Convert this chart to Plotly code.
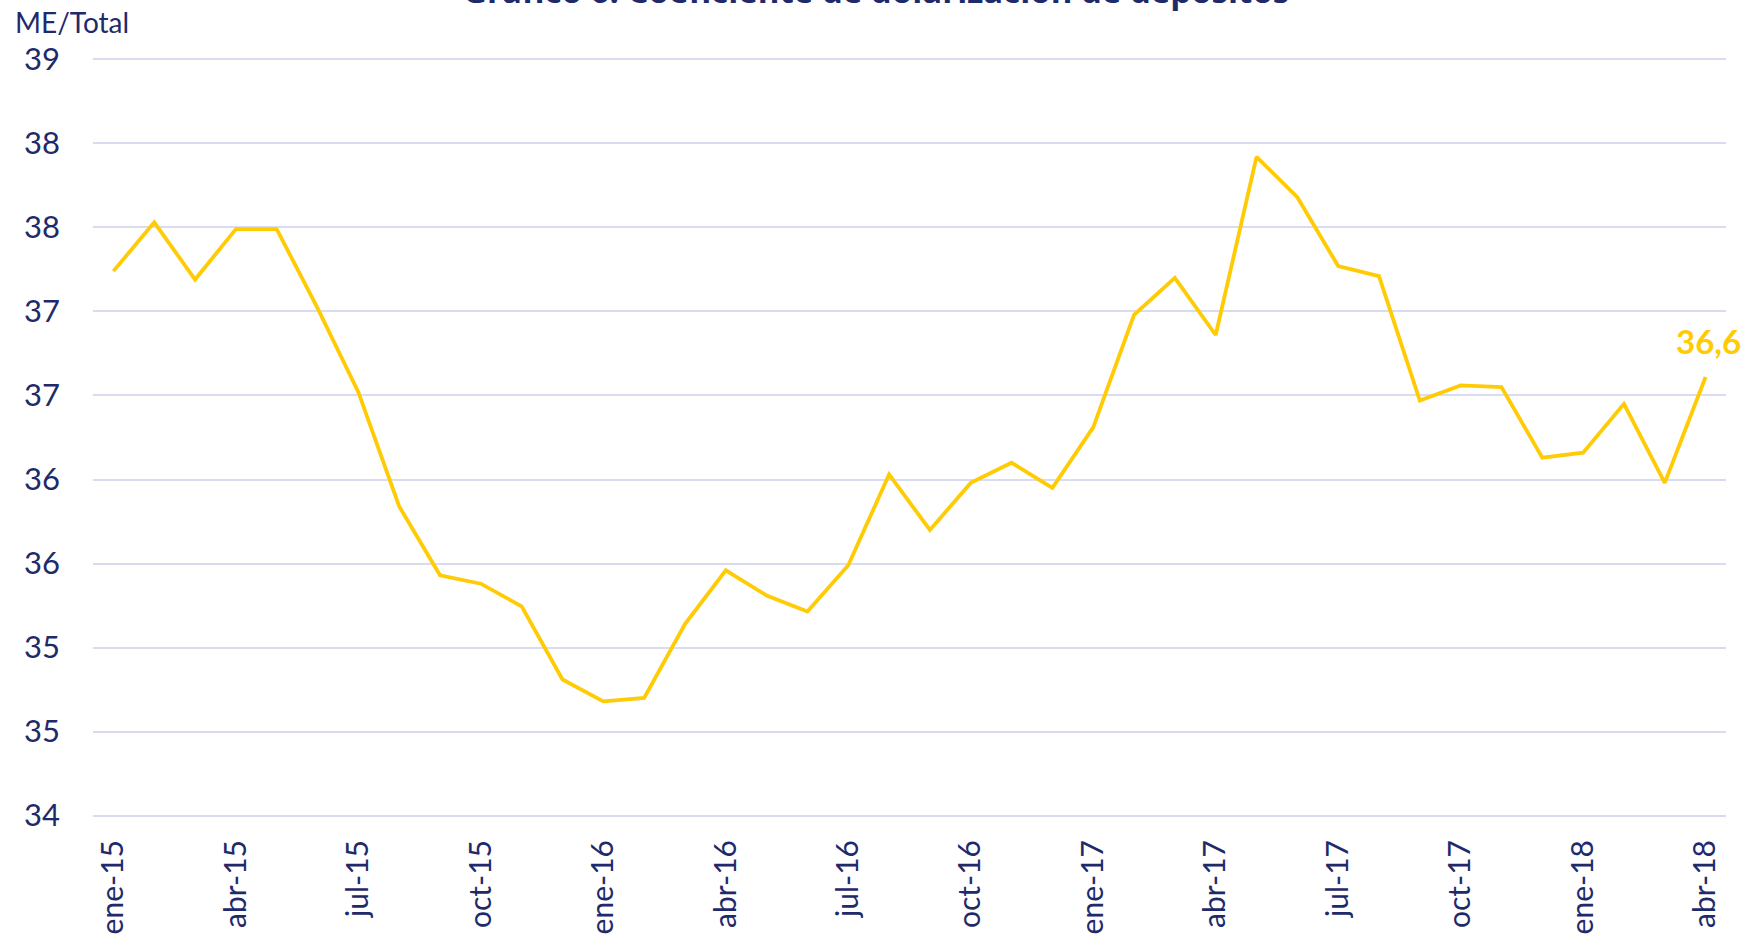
import plotly.graph_objects as go

months = ["ene-15","feb-15","mar-15","abr-15","may-15","jun-15","jul-15","ago-15","sep-15","oct-15","nov-15","dic-15",
          "ene-16","feb-16","mar-16","abr-16","may-16","jun-16","jul-16","ago-16","sep-16","oct-16","nov-16","dic-16",
          "ene-17","feb-17","mar-17","abr-17","may-17","jun-17","jul-17","ago-17","sep-17","oct-17","nov-17","dic-17",
          "ene-18","feb-18","mar-18","abr-18"]
values = [37.24, 37.53, 37.19, 37.49, 37.49, 37.02, 36.52, 35.84, 35.43, 35.38, 35.245, 34.81,
          34.68, 34.70, 35.14, 35.46, 35.31, 35.215, 35.49, 36.03, 35.70, 35.98, 36.10, 35.95,
          36.31, 36.98, 37.20, 36.86, 37.92, 37.68, 37.27, 37.21, 36.47, 36.56, 36.55, 36.13,
          36.16, 36.45, 35.98, 36.61]
y_tickvals = [34, 34.5, 35, 35.5, 36, 36.5, 37, 37.5, 38, 38.5]
y_ticktext = ["34", "35", "35", "36", "36", "37", "37", "38", "38", "39"]
x_tick_labels = months[::3]
last_label = "36,6"
title_text = "Gráfico 6: Coeficiente de dolarización de depósitos"
y_title = "ME/Total"

navy = "#1f2a6b"
gold = "#ffcb05"
font = "Lato"

x_idx = list(range(len(months)))

fig = go.Figure()
fig.add_trace(go.Scatter(x=x_idx, y=values, mode="lines",
                         line=dict(color=gold, width=3.8), hoverinfo="skip", showlegend=False))

fig.add_annotation(x=x_idx[-1], y=values[-1], xref="x", yref="y", text="<b>" + last_label + "</b>",
                   showarrow=False, xanchor="center", yanchor="bottom", yshift=14, xshift=3,
                   font=dict(family=font, size=33, color=gold))

fig.add_annotation(x=0.4795, y=1.0537, xref="paper", yref="paper", text="<b>" + title_text + "</b>",
                   showarrow=False, xanchor="center", yanchor="bottom",
                   font=dict(family="Open Sans", size=33, color=navy))

fig.add_annotation(x=-0.049, y=1.045, xref="paper", yref="paper", text=y_title,
                   showarrow=False, xanchor="left", yanchor="middle",
                   font=dict(family=font, size=28, color=navy))

fig.update_layout(
    width=1743, height=938,
    margin=dict(l=93, r=17, t=56, b=119),
    paper_bgcolor="white", plot_bgcolor="white",
    font=dict(family=font, color=navy),
    xaxis=dict(range=[-0.5, 39.5], tickmode="array", tickvals=x_idx[::3], ticktext=x_tick_labels,
               tickangle=-90, showgrid=False, zeroline=False, showline=False, ticks="",
               automargin=False,
               tickfont=dict(family=font, size=30, color=navy), ticklabelstandoff=14),
    yaxis=dict(range=[33.98, 38.52], tickmode="array", tickvals=y_tickvals, ticktext=y_ticktext,
               showgrid=True, gridcolor="#d9dcf0", gridwidth=1.5, zeroline=False, showline=False, ticks="",
               automargin=False,
               tickfont=dict(family=font, size=31, color=navy), ticklabelstandoff=32),
)

fig.write_html("out.html", config={"displayModeBar": False},
               post_script="document.body.style.margin='0';document.body.style.overflow='hidden';")
